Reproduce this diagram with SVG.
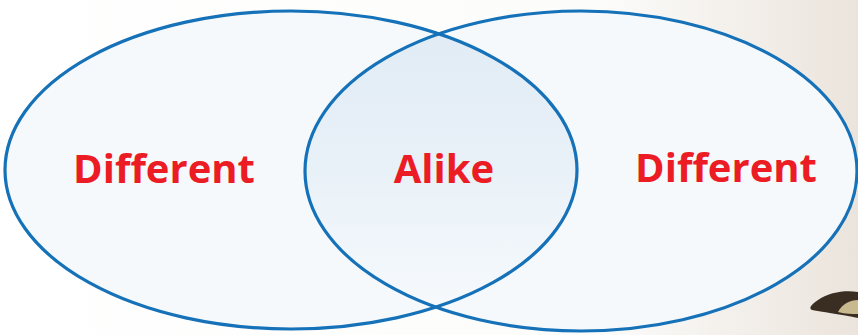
<svg xmlns="http://www.w3.org/2000/svg" width="858" height="335" viewBox="0 0 858 335">
  <defs>
    <linearGradient id="bg" x1="0" y1="0" x2="1" y2="0">
      <stop offset="0" stop-color="#ffffff"/>
      <stop offset="0.7" stop-color="#fcfcfb"/>
      <stop offset="1" stop-color="#ebe4dc"/>
    </linearGradient>
    <linearGradient id="mid" x1="0" y1="0" x2="0" y2="1">
      <stop offset="0" stop-color="#e0ebf5"/>
      <stop offset="0.5" stop-color="#e9f1f8"/>
      <stop offset="1" stop-color="#f8fbfd"/>
    </linearGradient>
    <clipPath id="clipL">
      <ellipse cx="291" cy="170" rx="286" ry="159"/>
    </clipPath>
    <style>
      .ring { fill: none; stroke: #1571b8; stroke-width: 3.2; }
      .fillc { fill: #f5f9fc; }
      .lbl { font-family: "Open Sans", "Liberation Sans", sans-serif; font-weight: 700; font-size: 40px; fill: #ec1c24; text-anchor: middle; }
    </style>
  </defs>
  <rect x="0" y="0" width="858" height="335" fill="url(#bg)"/>
  <ellipse class="fillc" cx="291" cy="170" rx="286" ry="159"/>
  <ellipse class="fillc" cx="581" cy="171" rx="276" ry="160"/>
  <ellipse cx="581" cy="171" rx="276" ry="160" fill="url(#mid)" clip-path="url(#clipL)"/>
  <path d="M858 292 C845 290 830 292 818 300 C812 304 808 308 812 310 C822 312 838 314 858 318 Z" fill="#3a2e22"/>
  <path d="M858 300 C850 300 842 304 838 312 C846 314 852 314 858 314 Z" fill="#c9b98e"/>
  <g id="left">
    <ellipse class="ring" cx="291" cy="170" rx="286" ry="159"/>
    <text class="lbl" x="164" y="183">Different</text>
  </g>
  <g id="right">
    <ellipse class="ring" cx="581" cy="171" rx="276" ry="160"/>
    <text class="lbl" x="726" y="182">Different</text>
  </g>
  <g id="middle">
    <text class="lbl" x="444" y="183">Alike</text>
  </g>
  <g id="connectors"></g>
</svg>
